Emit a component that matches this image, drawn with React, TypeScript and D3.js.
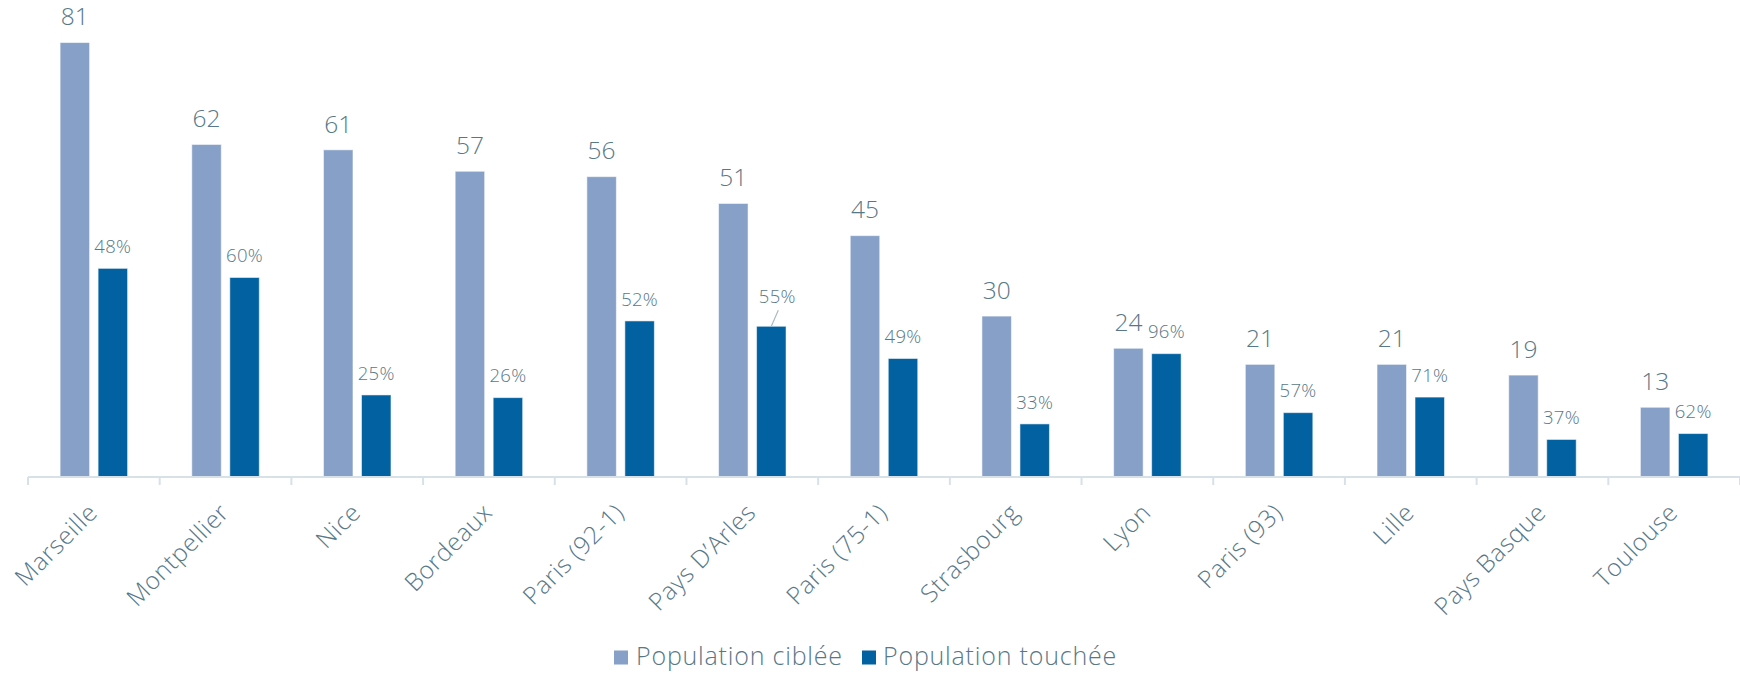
import React from "react";
import * as d3 from "d3";

const categories = [
  "Marseille",
  "Montpellier",
  "Nice",
  "Bordeaux",
  "Paris (92-1)",
  "Pays D\u2019Arles",
  "Paris (75-1)",
  "Strasbourg",
  "Lyon",
  "Paris (93)",
  "Lille",
  "Pays Basque",
  "Toulouse",
];
const populationCiblee = [81, 62, 61, 57, 56, 51, 45, 30, 24, 21, 21, 19, 13];
const populationTouchee = [38.9, 37.2, 15.3, 14.8, 29.1, 28.1, 22.1, 9.9, 23.0, 12.0, 14.9, 7.0, 8.1];
const pctLabels = ["48%", "60%", "25%", "26%", "52%", "55%", "49%", "33%", "96%", "57%", "71%", "37%", "62%"];
const seriesNames = ["Population cibl\u00e9e", "Population touch\u00e9e"];
const leaderLabelCategories = ["Pays D\u2019Arles"];

const W = 1740;
const H = 674;
const FONT = "'Open Sans', 'Noto Sans', sans-serif";
const TEXT = "#587887";
const LIGHT = "#86a0c8";
const DARK = "#0261a1";
const AXIS = "#d9e1e8";

export default function App() {
  const left = 28;
  const right = 1740;
  const baseY = 477;

  const x0 = d3.scaleBand<string>().domain(categories).range([left, right]).padding(0);
  const groupPad = 32.1;
  const x1 = d3
    .scaleBand<string>()
    .domain(["c", "t"])
    .range([groupPad, x0.bandwidth() - groupPad])
    .paddingInner(0.224)
    .paddingOuter(0);
  const y = d3.scaleLinear().domain([0, 88]).range([baseY, 5]);

  const ticks = d3.range(categories.length + 1).map((i) => left + i * x0.step());

  return (
    <svg
      width={W}
      height={H}
      style={{ position: "absolute", left: 0, top: 0, display: "block", background: "#fff" }}
      fontFamily={FONT}
      fontWeight={300}
    >
      {/* bars */}
      {categories.map((c, i) => {
        const gx = x0(c)!;
        const bw = x1.bandwidth();
        const cx = gx + x1("c")!;
        const tx = gx + x1("t")!;
        const cy = y(populationCiblee[i]);
        const ty = y(populationTouchee[i]);
        const hasLeader = leaderLabelCategories.includes(c);
        const pctCy = hasLeader ? ty - 30 : ty - 22;
        return (
          <g key={c}>
            <rect
              x={cx}
              y={cy}
              width={bw}
              height={baseY - cy}
              fill={LIGHT}
              stroke="#ffffff"
              strokeOpacity={0.55}
              strokeWidth={1}
            />
            <rect
              x={tx}
              y={ty}
              width={bw}
              height={baseY - ty}
              fill={DARK}
              stroke="#ffffff"
              strokeOpacity={0.55}
              strokeWidth={1}
            />
            <text
              x={cx + bw / 2}
              y={cy - 26}
              dy="0.36em"
              textAnchor="middle"
              fontSize={24.5}
              fill={TEXT}
            >
              {populationCiblee[i]}
            </text>
            <text
              x={tx + bw / 2 + (hasLeader ? 6 : 0)}
              y={pctCy}
              dy="0.36em"
              textAnchor="middle"
              fontSize={18.5}
              fill={TEXT}
              letterSpacing={0.3}
            >
              {pctLabels[i]}
            </text>
            {hasLeader && (
              <line
                x1={tx + bw / 2 + 7}
                y1={pctCy + 14}
                x2={tx + bw / 2}
                y2={ty}
                stroke="#a9bac6"
                strokeWidth={1.2}
              />
            )}
          </g>
        );
      })}

      {/* axis */}
      <line x1={left} x2={right} y1={baseY} y2={baseY} stroke={AXIS} strokeWidth={2} />
      {ticks.map((t, i) => (
        <line key={i} x1={t} x2={t} y1={baseY} y2={baseY + 8} stroke={AXIS} strokeWidth={2} />
      ))}
      {categories.map((c) => {
        const cx = x0(c)! + x0.bandwidth() / 2 + 5;
        const cy = baseY + 37;
        return (
          <text
            key={c}
            transform={`translate(${cx},${cy}) rotate(-45)`}
            textAnchor="end"
            fontSize={24.5}
            letterSpacing={0.6}
            fill={TEXT}
          >
            {c}
          </text>
        );
      })}

      {/* legend */}
      <g>
        <rect x={614} y={650.5} width={14} height={14} fill={LIGHT} />
        <text x={636} y={664.5} fontSize={25} letterSpacing={0.8} fill={TEXT}>
          {seriesNames[0]}
        </text>
        <rect x={862} y={650.5} width={14} height={14} fill={DARK} />
        <text x={883} y={664.5} fontSize={25} letterSpacing={0.8} fill={TEXT}>
          {seriesNames[1]}
        </text>
      </g>
    </svg>
  );
}
